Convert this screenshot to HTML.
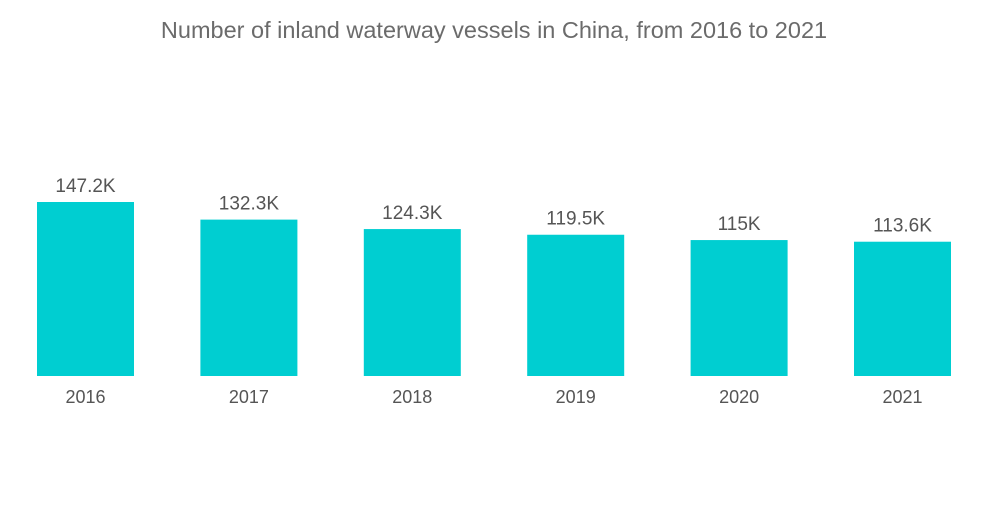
<!DOCTYPE html>
<html><head><meta charset="utf-8"><style>
body{margin:0;background:#fff;width:1000px;height:504px;overflow:hidden;font-family:"Liberation Sans",sans-serif}
</style></head><body>
<svg width="1000" height="504">
<text x="494" y="38" text-anchor="middle" font-size="23.5" fill="#6b6b6b">Number of inland waterway vessels in China, from 2016 to 2021</text>
<g id="bars"></g>
</svg>
<script>
const categories=["2016","2017","2018","2019","2020","2021"];
const values=[147.2,132.3,124.3,119.5,115,113.6];
const valueLabels=["147.2K","132.3K","124.3K","119.5K","115K","113.6K"];
const baseY=376, scale=174/147.2, x0=37, step=163.4, bw=97;
const y=v=>baseY-v*scale;
const g=document.getElementById('bars');
const ns="http://www.w3.org/2000/svg";
categories.forEach((c,i)=>{
  const x=x0+i*step;
  const r=document.createElementNS(ns,'rect');
  r.setAttribute('x',x);r.setAttribute('y',y(values[i]));
  r.setAttribute('width',bw);r.setAttribute('height',baseY-y(values[i]));
  r.setAttribute('fill','#00ced1');
  
  
  g.appendChild(r);
  const t=document.createElementNS(ns,'text');
  t.setAttribute('x',x+bw/2);t.setAttribute('y',y(values[i])-10);
  t.setAttribute('text-anchor','middle');t.setAttribute('font-size','19');t.setAttribute('fill','#555');
  t.textContent=valueLabels[i];
  
  
  g.appendChild(t);
  const l=document.createElementNS(ns,'text');
  l.setAttribute('x',x+bw/2);l.setAttribute('y',403);
  l.setAttribute('text-anchor','middle');l.setAttribute('font-size','18');l.setAttribute('fill','#555');
  l.textContent=c;
  
  
  g.appendChild(l);
});
</script>
</body></html>
